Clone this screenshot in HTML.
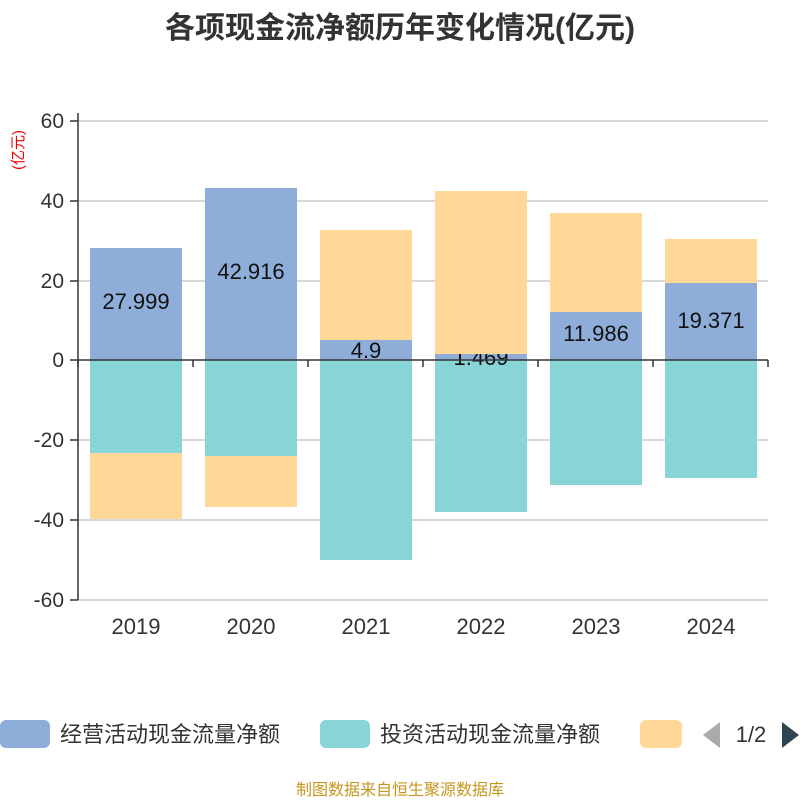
<!DOCTYPE html>
<html><head><meta charset="utf-8"><style>
body{margin:0;background:#fff;}
svg{display:block;font-family:"Liberation Sans","Noto Sans CJK SC",sans-serif;}
</style></head><body>
<svg width="800" height="800" viewBox="0 0 800 800">
<text x="400" y="38" text-anchor="middle" font-size="30" font-weight="bold" fill="#333">各项现金流净额历年变化情况(亿元)</text>
<text x="23" y="170" font-size="15" fill="#e00" transform="rotate(-90 23 170)">(亿元)</text>
<g stroke="#ccc" stroke-width="1.5">
<line x1="78" y1="121" x2="768" y2="121"/><line x1="78" y1="201" x2="768" y2="201"/>
<line x1="78" y1="281" x2="768" y2="281"/><line x1="78" y1="440" x2="768" y2="440"/>
<line x1="78" y1="520" x2="768" y2="520"/><line x1="78" y1="600" x2="768" y2="600"/>
</g>
<g font-size="21" fill="#333" text-anchor="end">
<text x="64" y="128">60</text><text x="64" y="208">40</text><text x="64" y="288">20</text>
<text x="64" y="367">0</text><text x="64" y="447">-20</text><text x="64" y="527">-40</text><text x="64" y="607">-60</text>
</g>
<g>
<rect x="90" y="248" width="92" height="112" fill="#8eaed9"/>
<rect x="90" y="360" width="92" height="93" fill="#88d5d8"/>
<rect x="90" y="453" width="92" height="66" fill="#ffd898"/>
<rect x="205" y="188" width="92" height="172" fill="#8eaed9"/>
<rect x="205" y="360" width="92" height="96" fill="#88d5d8"/>
<rect x="205" y="456" width="92" height="51" fill="#ffd898"/>
<rect x="320" y="340" width="92" height="20" fill="#8eaed9"/>
<rect x="320" y="360" width="92" height="200" fill="#88d5d8"/>
<rect x="435" y="354" width="92" height="6" fill="#8eaed9"/>
<rect x="435" y="360" width="92" height="152" fill="#88d5d8"/>
<rect x="550" y="312" width="92" height="48" fill="#8eaed9"/>
<rect x="550" y="360" width="92" height="125" fill="#88d5d8"/>
<rect x="665" y="283" width="92" height="77" fill="#8eaed9"/>
<rect x="665" y="360" width="92" height="118" fill="#88d5d8"/>
</g>
<g font-size="22" fill="#111" text-anchor="middle">
<text x="136" y="309">27.999</text><text x="251" y="279">42.916</text>
<text x="366" y="358">4.9</text><text x="481" y="365">1.469</text>
<text x="596" y="341">11.986</text><text x="711" y="328">19.371</text>
</g>
<g fill="#ffd898">
<rect x="320" y="230" width="92" height="110"/>
<rect x="435" y="191" width="92" height="163"/>
<rect x="550" y="213" width="92" height="99"/>
<rect x="665" y="239" width="92" height="44"/>
</g>
<g stroke="#333" stroke-width="1.5">
<line x1="78" y1="113" x2="78" y2="600"/>
<line x1="70" y1="360" x2="768" y2="360"/>
<line x1="78" y1="360" x2="78" y2="367"/><line x1="193" y1="360" x2="193" y2="367"/>
<line x1="308" y1="360" x2="308" y2="367"/><line x1="423" y1="360" x2="423" y2="367"/>
<line x1="538" y1="360" x2="538" y2="367"/><line x1="653" y1="360" x2="653" y2="367"/>
<line x1="768" y1="360" x2="768" y2="367"/>
<line x1="70" y1="121" x2="78" y2="121"/><line x1="70" y1="201" x2="78" y2="201"/>
<line x1="70" y1="281" x2="78" y2="281"/><line x1="70" y1="440" x2="78" y2="440"/>
<line x1="70" y1="520" x2="78" y2="520"/><line x1="70" y1="600" x2="78" y2="600"/>
</g>
<g font-size="22" fill="#333" text-anchor="middle">
<text x="136" y="634">2019</text><text x="251" y="634">2020</text><text x="366" y="634">2021</text>
<text x="481" y="634">2022</text><text x="596" y="634">2023</text><text x="711" y="634">2024</text>
</g>
<rect x="0" y="720" width="50" height="28" rx="6" fill="#8eaed9"/>
<text x="60" y="742" font-size="22" fill="#333">经营活动现金流量净额</text>
<rect x="320" y="720" width="50" height="28" rx="6" fill="#88d5d8"/>
<text x="380" y="742" font-size="22" fill="#333">投资活动现金流量净额</text>
<rect x="640" y="720" width="42" height="28" rx="6" fill="#ffd898"/>
<polygon points="720,722 720,748 703,735" fill="#aaa"/>
<text x="751" y="742" font-size="22" fill="#333" text-anchor="middle">1/2</text>
<polygon points="782,722 782,748 799,735" fill="#2f4554"/>
<text x="400" y="795" font-size="16" fill="#c8961e" text-anchor="middle">制图数据来自恒生聚源数据库</text>
</svg>
</body></html>
